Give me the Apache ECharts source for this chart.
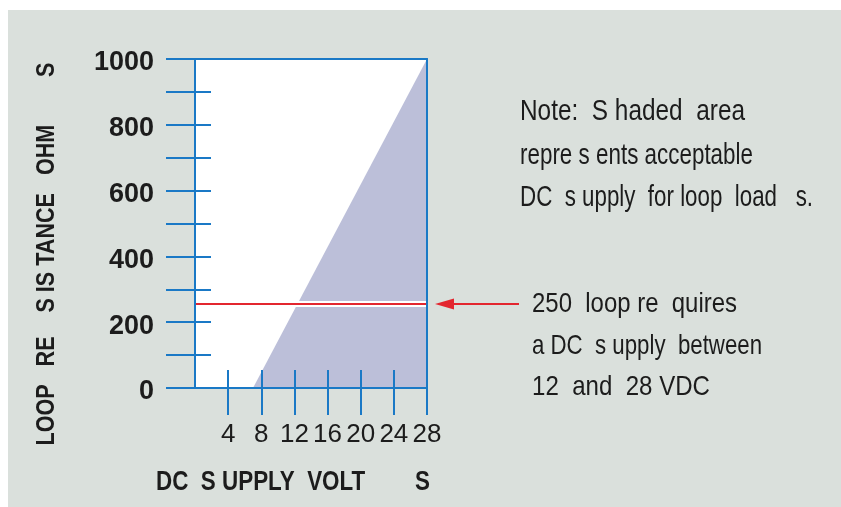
<!DOCTYPE html>
<html><head><meta charset="utf-8">
<script src="https://cdn.jsdelivr.net/npm/echarts@6/dist/echarts.min.js"></script>
<style>
html,body{margin:0;padding:0;background:#fff;width:841px;height:507px;overflow:hidden;}
#wrap{position:absolute;left:8px;top:10px;width:833px;height:497px;background:#dae0dc;}
#c{width:833px;height:497px;}
</style></head><body><div id="wrap"><div id="c"></div></div>
<script>
// ---- data ----
const xTicks = [4, 8, 12, 16, 20, 24, 28];
const xInnerTicks = [4, 8, 12, 16, 20, 24];
const yLabelStep = 200;
const shadedBoundary = [[7, 0], [28, 1000]];      // minimum supply voltage vs loop resistance
const exampleLoad = 255;                            // the red example line
const exampleLine = [[0, exampleLoad], [28, exampleLoad]];
const noteLines = ['Note:  S haded  area', 'repre s ents acceptable', 'DC  s upply  for loop  load   s.'];
const exampleLines = ['250  loop re  quires', 'a DC  s upply  between', '12  and  28 VDC'];
const xTitle = 'DC  S UPPLY  VOLT        S';
const yTitle = 'LOOP   RE    S IS TANCE   OHM        S';

const BLUE = '#1a79c6', RED = '#e3262f', TXT = '#1c1c1c';
const OX = 8, OY = 10; // chart canvas offset inside the page
const FONT = "'Liberation Sans', Arial, sans-serif";

const chart = echarts.init(document.getElementById('c'), null, {renderer: 'canvas'});
const blueLine = {color: BLUE, width: 2};
const base = {type: 'value', min: 0, splitLine: {show: false}};

chart.setOption({
  animation: false,
  backgroundColor: 'transparent',
  grid: {left: 187, top: 49, right: 414, bottom: 119, show: true, backgroundColor: '#fff', borderWidth: 0},
  xAxis: [
    Object.assign({}, base, {max: 28, interval: 4, position: 'bottom', z: 5,
      axisLine: {show: true, onZero: false, lineStyle: blueLine},
      axisTick: {show: true, inside: true, length: 18, customValues: xInnerTicks, lineStyle: blueLine},
      axisLabel: {show: false}}),
    Object.assign({}, base, {max: 28, interval: 4, position: 'bottom', z: 5,
      axisLine: {show: false, onZero: false},
      axisTick: {show: true, inside: false, length: 27, customValues: xTicks, lineStyle: blueLine},
      axisLabel: {show: true, customValues: xTicks, margin: 34, fontSize: 26, color: TXT,
        fontFamily: "'Liberation Sans Narrow', 'Arial Narrow', sans-serif"}}),
    Object.assign({}, base, {max: 28, interval: 4, position: 'top', z: 5,
      axisLine: {show: true, onZero: false, lineStyle: blueLine},
      axisTick: {show: false}, axisLabel: {show: false}})
  ],
  yAxis: [
    Object.assign({}, base, {max: 1000, interval: 100, position: 'left', z: 5,
      axisLine: {show: true, onZero: false, lineStyle: blueLine},
      axisTick: {show: true, inside: true, length: 16, lineStyle: blueLine},
      axisLabel: {show: false}}),
    Object.assign({}, base, {max: 1000, interval: 100, position: 'left', z: 5,
      axisLine: {show: false, onZero: false},
      axisTick: {show: true, inside: false, length: 29, lineStyle: blueLine},
      axisLabel: {show: true, margin: 41, color: TXT,
        formatter: v => (v % yLabelStep === 0 ? '{v|' + v + '}' : ''),
        rich: {v: {fontSize: 27, fontWeight: 'bold', fontFamily: FONT, color: TXT, padding: [8, 0, 0, 0]}}}}),
    Object.assign({}, base, {max: 1000, interval: 100, position: 'right', z: 5,
      axisLine: {show: true, onZero: false, lineStyle: blueLine},
      axisTick: {show: false}, axisLabel: {show: false}})
  ],
  series: [
    {type: 'line', name: 'Acceptable region', xAxisIndex: 0, yAxisIndex: 0, data: shadedBoundary,
      symbol: 'none', lineStyle: {width: 0}, areaStyle: {color: '#bcbfd9', opacity: 1}, silent: true, z: 1},
    {type: 'line', name: 'halo', xAxisIndex: 0, yAxisIndex: 0, data: exampleLine,
      symbol: 'none', lineStyle: {color: '#fff', width: 6}, silent: true, z: 2},
    {type: 'line', name: '250 ohm example', xAxisIndex: 0, yAxisIndex: 0, data: exampleLine,
      symbol: 'none', lineStyle: {color: RED, width: 2}, silent: true, z: 3}
  ]
});

const mctx = document.createElement('canvas').getContext('2d');
// text drawn condensed (Arial-Narrow look), stretched to span the given width
function txt(text, x, y, size, bold, width, opts) {
  const font = (bold ? 'bold ' : '') + size + 'px ' + FONT;
  mctx.font = font;
  const sx = width / mctx.measureText(text).width;
  return Object.assign({type: 'text', x: x, y: y, scaleX: sx, silent: true, z: 10,
    style: {text: text, fill: TXT, font: font,
      textAlign: 'left', textVerticalAlign: 'middle', align: 'left', verticalAlign: 'middle'}}, opts || {});
}

const p = chart.convertToPixel({xAxisIndex: 0, yAxisIndex: 0}, exampleLine[1]);
const tipX = p[0] + 8, ay = p[1];
const graphics = [
  {type: 'line', silent: true, z: 10, shape: {x1: tipX + 14, y1: ay, x2: tipX + 84, y2: ay}, style: {stroke: RED, lineWidth: 2}},
  {type: 'polygon', silent: true, z: 10, shape: {points: [[tipX, ay], [tipX + 19, ay - 5.5], [tipX + 19, ay + 5.5]]}, style: {fill: RED}}
];
const noteY = [112, 156, 198], noteW = [225, 233, 293];
noteLines.forEach((t, i) => graphics.push(txt(t, 520 - OX, noteY[i] - OY, 29, false, noteW[i])));
const exY = [304, 346, 387], exW = [205, 230, 178];
exampleLines.forEach((t, i) => graphics.push(txt(t, 532 - OX, exY[i] - OY, 28, false, exW[i])));
graphics.push(txt(xTitle, 156 - OX, 483 - OY, 27, true, 274));
const yt = txt(yTitle, 47 - OX, 254 - OY, 25, true, 383, {rotation: Math.PI / 2});
yt.style.textAlign = 'center'; yt.style.align = 'center';
graphics.push(yt);
chart.setOption({graphic: graphics});
</script></body></html>
